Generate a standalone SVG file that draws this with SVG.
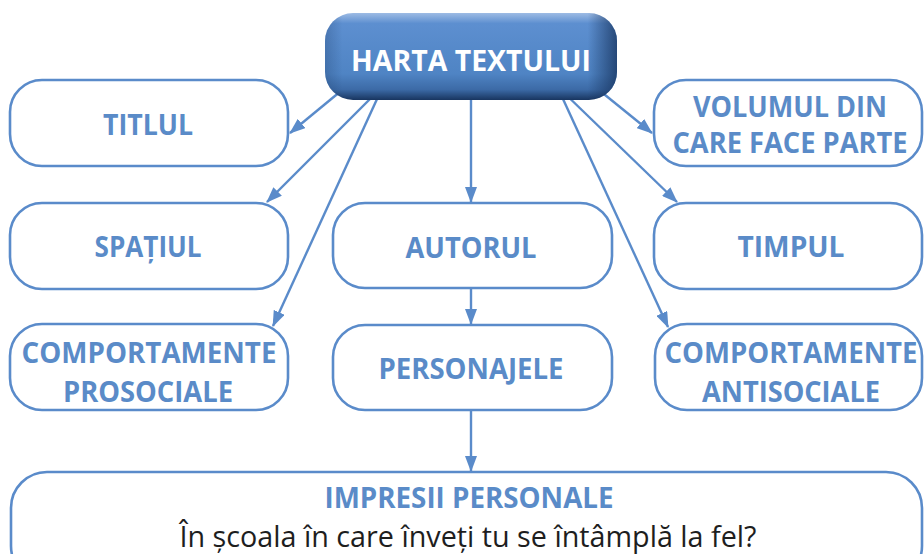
<svg xmlns="http://www.w3.org/2000/svg" width="924" height="554" viewBox="0 0 924 554">
<defs>
<style>
.box{fill:#ffffff;stroke:#5a8bca;stroke-width:2.6}
.lbl{font-family:"Open Sans","Liberation Sans",sans-serif;font-weight:700;font-size:29px;fill:#5a8bc8;text-anchor:middle}
.q{font-family:"Open Sans","Liberation Sans",sans-serif;font-weight:400;font-size:30px;fill:#1e1e1e;text-anchor:middle}
.con{stroke:#5a8bca;stroke-width:2.4;fill:none;marker-end:url(#ah)}
</style>
<marker id="ah" markerUnits="userSpaceOnUse" markerWidth="16" markerHeight="12" refX="15" refY="6" orient="auto">
<path d="M0,0 L16,6 L0,12 Z" fill="#5a8bca"/>
</marker>
<linearGradient id="gv" x1="0" y1="0" x2="0" y2="1">
<stop offset="0" stop-color="#9dbbe4"/>
<stop offset="0.12" stop-color="#5d8fd0"/>
<stop offset="0.7" stop-color="#4f84c4"/>
<stop offset="0.88" stop-color="#3c6aa6"/>
<stop offset="1" stop-color="#18355f"/>
</linearGradient>
<linearGradient id="gh" x1="0" y1="0" x2="1" y2="0">
<stop offset="0" stop-color="#16325c" stop-opacity="0.25"/>
<stop offset="0.06" stop-color="#16325c" stop-opacity="0"/>
<stop offset="0.9" stop-color="#16325c" stop-opacity="0"/>
<stop offset="1" stop-color="#16325c" stop-opacity="0.75"/>
</linearGradient>
</defs>
<rect width="924" height="554" fill="#ffffff"/>
<g id="connectors">
<line class="con" x1="347" y1="86" x2="290" y2="133"/>
<line class="con" x1="383" y1="86" x2="267" y2="202"/>
<line class="con" x1="383" y1="86" x2="273" y2="326"/>
<line class="con" x1="471" y1="100" x2="471" y2="202"/>
<line class="con" x1="471" y1="288" x2="471" y2="324"/>
<line class="con" x1="471" y1="410" x2="471" y2="471"/>
<line class="con" x1="594" y1="86" x2="652" y2="133"/>
<line class="con" x1="557" y1="86" x2="677" y2="202"/>
<line class="con" x1="557" y1="86" x2="668" y2="327"/>
</g>
<g id="n-harta">
<rect x="325" y="13" width="292" height="87" rx="28" fill="url(#gv)"/>
<rect x="325" y="13" width="292" height="87" rx="28" fill="url(#gh)"/>
<text x="471" y="71" font-family="Open Sans, Liberation Sans, sans-serif" font-weight="700" font-size="29" fill="#ffffff" text-anchor="middle" textLength="240" lengthAdjust="spacingAndGlyphs">HARTA TEXTULUI</text>
</g>
<g id="n-titlul">
<rect class="box" x="10" y="80" width="278" height="86" rx="32"/>
<text class="lbl" x="148" y="135" textLength="90" lengthAdjust="spacingAndGlyphs">TITLUL</text>
</g>
<g id="n-spatiul">
<rect class="box" x="10" y="203" width="278" height="86" rx="32"/>
<text class="lbl" x="148" y="257" textLength="107" lengthAdjust="spacingAndGlyphs">SPAȚIUL</text>
</g>
<g id="n-prosociale">
<rect class="box" x="10" y="324" width="278" height="86" rx="32"/>
<text class="lbl" x="149" y="363" textLength="255" lengthAdjust="spacingAndGlyphs">COMPORTAMENTE</text>
<text class="lbl" x="148" y="402" textLength="170" lengthAdjust="spacingAndGlyphs">PROSOCIALE</text>
</g>
<g id="n-autorul">
<rect class="box" x="333" y="203" width="279" height="85" rx="32"/>
<text class="lbl" x="471" y="258" textLength="131" lengthAdjust="spacingAndGlyphs">AUTORUL</text>
</g>
<g id="n-personajele">
<rect class="box" x="333" y="325" width="279" height="85" rx="32"/>
<text class="lbl" x="471" y="379" textLength="185" lengthAdjust="spacingAndGlyphs">PERSONAJELE</text>
</g>
<g id="n-volumul">
<rect class="box" x="654" y="80" width="268" height="86" rx="32"/>
<text class="lbl" x="790" y="117" textLength="194" lengthAdjust="spacingAndGlyphs">VOLUMUL DIN</text>
<text class="lbl" x="790" y="153" textLength="235" lengthAdjust="spacingAndGlyphs">CARE FACE PARTE</text>
</g>
<g id="n-timpul">
<rect class="box" x="654" y="203" width="268" height="86" rx="32"/>
<text class="lbl" x="791" y="257" textLength="107" lengthAdjust="spacingAndGlyphs">TIMPUL</text>
</g>
<g id="n-antisociale">
<rect class="box" x="655" y="324" width="267" height="86" rx="32"/>
<text class="lbl" x="791" y="363" textLength="253" lengthAdjust="spacingAndGlyphs">COMPORTAMENTE</text>
<text class="lbl" x="791" y="402" textLength="178" lengthAdjust="spacingAndGlyphs">ANTISOCIALE</text>
</g>
<g id="n-impresii">
<rect class="box" x="11" y="472" width="911" height="110" rx="36"/>
<text class="lbl" x="469" y="508" font-size="27" textLength="289" lengthAdjust="spacingAndGlyphs">IMPRESII PERSONALE</text>
<text class="q" x="468" y="547" textLength="577" lengthAdjust="spacingAndGlyphs">În școala în care înveți tu se întâmplă la fel?</text>
</g>
</svg>
